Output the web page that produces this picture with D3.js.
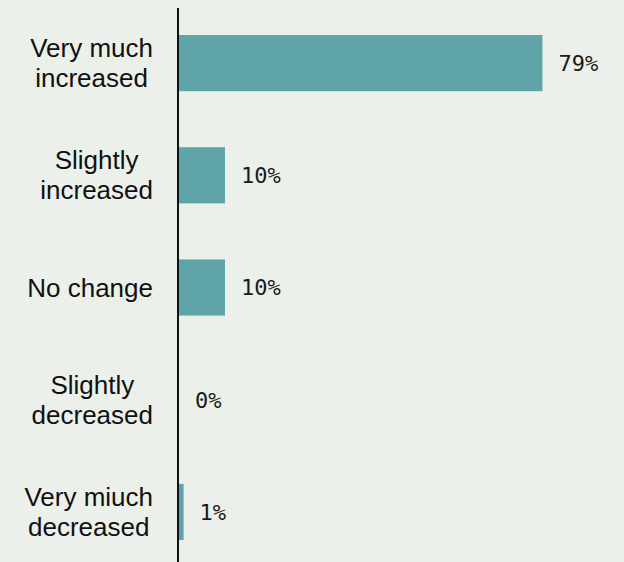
<!DOCTYPE html>
<html>
<head>
<meta charset="utf-8">
<script src="https://cdn.jsdelivr.net/npm/d3@7"></script>
<style>
  html, body { margin: 0; padding: 0; background: #ebf0ea; }
  svg { display: block; }
</style>
</head>
<body>
<svg id="chart" width="624" height="562"></svg>
<script>
// Survey responses: change in level, share of respondents
const categories = [
  ["Very much", "increased"],
  ["Slightly", "increased"],
  ["No change"],
  ["Slightly", "decreased"],
  ["Very miuch", "decreased"]
];
const values = [79, 10, 10, 0, 1];
const valueLabels = ["79%", "10%", "10%", "0%", "1%"];

const W = 624, H = 562;
const axisX = 178;
const labelRight = 153;

const svg = d3.select("#chart");
svg.append("rect").attr("width", W).attr("height", H).attr("fill", "#ebf0ea");

const keys = categories.map((c, i) => i);
const y = d3.scaleBand().domain(keys).range([7, 568]).paddingInner(0.5).paddingOuter(0.25);
const x = d3.scaleLinear().domain([0, 100]).range([axisX + 1, axisX + 1 + 460]);

// bars
svg.append("g").selectAll("rect")
  .data(values)
  .join("rect")
  .attr("x", x(0))
  .attr("y", (d, i) => y(i))
  .attr("width", d => x(d) - x(0))
  .attr("height", y.bandwidth())
  .attr("fill", "#5fa4a9");

// value labels
svg.append("g").selectAll("text")
  .data(values)
  .join("text")
  .attr("x", d => x(d) + 16)
  .attr("y", (d, i) => y(i) + y.bandwidth() / 2)
  .attr("dy", "0.36em")
  .attr("font-family", "'DejaVu Sans Mono', monospace")
  .attr("font-size", 22)
  .attr("fill", "#1a1a1a")
  .text((d, i) => valueLabels[i]);

// category labels: each block centred on its own lines, right edge at labelRight
const lineH = 30;
const catG = svg.append("g");
categories.forEach((lines, i) => {
  const cy = y(i) + y.bandwidth() / 2;
  const t = catG.append("text")
    .attr("font-family", "'Liberation Sans', Arial, sans-serif")
    .attr("font-size", 26)
    .attr("fill", "#111")
    .attr("text-anchor", "middle");
  const spans = lines.map((s, k) => t.append("tspan")
    .attr("y", cy + (k - (lines.length - 1) / 2) * lineH)
    .attr("dy", "0.35em")
    .text(s));
  const maxW = d3.max(spans, sp => sp.node().getComputedTextLength());
  spans.forEach(sp => sp.attr("x", labelRight - maxW / 2));
});

// vertical axis line
svg.append("line")
  .attr("x1", axisX).attr("x2", axisX)
  .attr("y1", 8).attr("y2", H)
  .attr("stroke", "#111")
  .attr("stroke-width", 2);
</script>
</body>
</html>
